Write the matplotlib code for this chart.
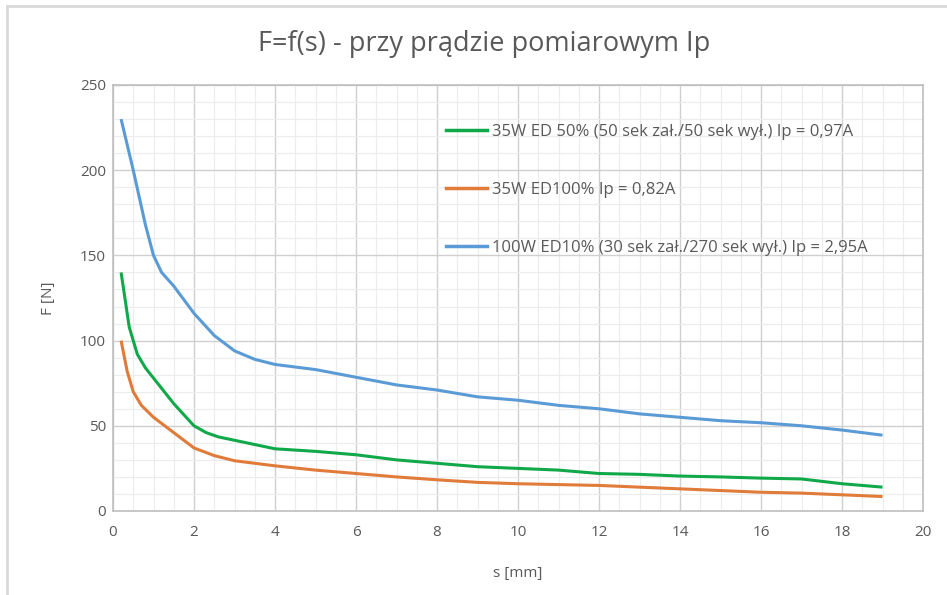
import numpy as np
import matplotlib.pyplot as plt
from matplotlib.lines import Line2D
from matplotlib.ticker import MultipleLocator

plt.rcParams['font.family'] = ['Open Sans', 'DejaVu Sans']

# s [mm]
s_green = [0.2, 0.4, 0.6, 0.8, 1.0, 1.5, 2.0, 2.3, 2.6, 3.0, 4.0, 5.0, 6.0, 7.0, 8.0, 9.0,
           10.0, 11.0, 12.0, 13.0, 14.0, 15.0, 16.0, 17.0, 18.0, 19.0]
F_green = [140, 108, 92, 84, 78, 63, 50, 46, 43.5, 41.5, 36.5, 35, 33, 30, 28, 26,
           25, 24, 22, 21.5, 20.5, 20, 19.3, 18.8, 16, 14]

s_orange = [0.2, 0.35, 0.5, 0.7, 1.0, 1.5, 2.0, 2.5, 3.0, 4.0, 5.0, 6.0, 7.0, 8.0,
            9.0, 10.0, 11.0, 12.0, 13.0, 14.0, 15.0, 16.0, 17.0, 18.0, 19.0]
F_orange = [100, 82, 70, 62, 55, 46, 37, 32.5, 29.5, 26.5, 24, 22, 20, 18.3,
            16.8, 16, 15.5, 15, 14, 13, 12, 11, 10.5, 9.5, 8.5]

s_blue = [0.2, 0.5, 0.8, 1.0, 1.2, 1.5, 2.0, 2.5, 3.0, 3.5, 4.0, 5.0, 6.0, 7.0, 8.0,
          9.0, 10.0, 11.0, 12.0, 13.0, 14.0, 15.0, 16.0, 17.0, 18.0, 19.0]
F_blue = [230, 200, 168, 150, 140, 132, 116, 103, 94, 89, 86, 83, 78.5, 74, 71,
          67, 65, 62, 60, 57, 55, 53, 51.8, 50, 47.5, 44.5]

labels = ['35W ED 50% (50 sek zał./50 sek wył.) Ip = 0,97A',
          '35W ED100% Ip = 0,82A',
          '100W ED10% (30 sek zał./270 sek wył.) Ip = 2,95A']
colors = ['#11a84a', '#e07b39', '#5b9bd5']

fig = plt.figure(figsize=(9.47, 5.95), dpi=100)
ax = fig.add_axes([113 / 947, 1 - 511 / 595, 810 / 947, 426 / 595])

ax.plot(s_green, F_green, color=colors[0], lw=2.2, solid_capstyle='butt')
ax.plot(s_orange, F_orange, color=colors[1], lw=2.2, solid_capstyle='butt')
ax.plot(s_blue, F_blue, color=colors[2], lw=2.2, solid_capstyle='butt')

ax.set_xlim(0, 20)
ax.set_ylim(0, 250)
ax.xaxis.set_major_locator(MultipleLocator(2))
ax.xaxis.set_minor_locator(MultipleLocator(0.5))
ax.yaxis.set_major_locator(MultipleLocator(50))
ax.yaxis.set_minor_locator(MultipleLocator(10))
ax.grid(which='major', color='#d0d0d0', lw=1.0)
ax.grid(which='minor', color='#ececec', lw=0.8)
ax.set_axisbelow(True)
for sp in ax.spines.values():
    sp.set_color('#bfbfbf')
    sp.set_linewidth(1.2)
ax.tick_params(which='both', length=0, labelsize=11, labelcolor='#595959')
ax.tick_params(axis='x', pad=10)
ax.tick_params(axis='y', pad=5)

ax.set_xlabel('s [mm]', fontsize=11, color='#595959')
ax.xaxis.set_label_coords(0.5, -0.128)
ax.set_ylabel('F [N]', fontsize=11, color='#595959')
ax.yaxis.set_label_coords(-0.07, 0.5)

fig.text(0.511, 1 - 44 / 595, 'F=f(s) - przy prądzie pomiarowym Ip',
         ha='center', va='center', fontsize=19.5, color='#595959')

handles = [Line2D([], [], color=c, lw=2.5) for c in colors]
leg = ax.legend(handles, labels, loc='upper left', bbox_to_anchor=(0.411, 0.908),
                frameon=False, fontsize=12, labelspacing=2.5, handlelength=2.45,
                handletextpad=0.3, borderaxespad=0, borderpad=0)
for t in leg.get_texts():
    t.set_color('#595959')

# outer frame of the chart
fig.add_artist(Line2D([7 / 947, 1], [1 - 6 / 595, 1 - 6 / 595],
                      transform=fig.transFigure, color='#d9d9d9', lw=2))
fig.add_artist(Line2D([7 / 947, 7 / 947], [0, 1 - 6 / 595],
                      transform=fig.transFigure, color='#d9d9d9', lw=2))

fig.savefig('out.png', dpi=100)
